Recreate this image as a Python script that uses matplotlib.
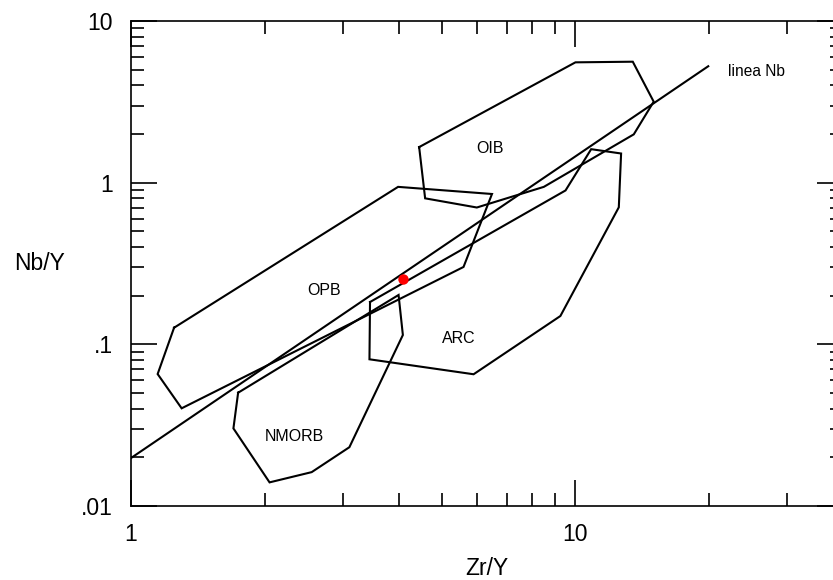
"""Nb/Y vs Zr/Y discrimination diagram (OIB, OPB, ARC, NMORB fields + linea Nb)."""
import matplotlib
matplotlib.use("Agg")
import matplotlib.pyplot as plt
from matplotlib.ticker import LogLocator, FixedLocator, FixedFormatter, NullFormatter

plt.rcParams["font.family"] = ["Liberation Sans", "DejaVu Sans"]

# field outlines (Zr/Y, Nb/Y)
OIB_X = [4.45, 10.0, 13.46, 15.0, 13.53, 8.49, 6.0, 4.59]
OIB_Y = [1.66, 5.55, 5.60, 3.17, 1.99, 0.942, 0.702, 0.80]

OPB_X = [1.25, 1.148, 1.30, 5.60, 6.49, 3.99]
OPB_Y = [0.1267, 0.0655, 0.0402, 0.301, 0.851, 0.942]

ARC_X = [3.45, 3.44, 5.90, 9.25, 12.52, 12.67, 10.85, 9.5]
ARC_Y = [0.1827, 0.0808, 0.0653, 0.1497, 0.704, 1.515, 1.611, 0.895]

NMORB_X = [1.742, 1.70, 2.05, 2.55, 3.10, 4.09, 4.0]
NMORB_Y = [0.0502, 0.0302, 0.0140, 0.0162, 0.0231, 0.1142, 0.202]

NB_LINE_X = [1.0, 19.9]
NB_LINE_Y = [0.0198, 5.25]

SAMPLE_X = [4.09]
SAMPLE_Y = [0.2525]

# field labels
LABELS = ["OIB", "OPB", "ARC", "NMORB"]
LABEL_X = [6.44, 2.72, 5.46, 2.33]
LABEL_Y = [1.63, 0.215, 0.109, 0.0271]

Y_TICKS = [0.01, 0.1, 1, 10]
Y_TICKLABELS = [".01", ".1", "1", "10"]
X_TICKS = [1, 10]
X_TICKLABELS = ["1", "10"]


def closed(xs, ys):
    return xs + xs[:1], ys + ys[:1]


fig = plt.figure(figsize=(8.33, 5.80), dpi=100)
# axes runs a little past the right edge, like the cropped original
ax = fig.add_axes([131 / 833, 74 / 580, 712 / 833, 485 / 580])
ax.set_xscale("log")
ax.set_yscale("log")
ax.set_xlim(1, 40)
ax.set_ylim(0.01, 10)

lw = 1.5
for xs, ys in [(OIB_X, OIB_Y), (OPB_X, OPB_Y), (ARC_X, ARC_Y), (NMORB_X, NMORB_Y)]:
    cx, cy = closed(xs, ys)
    ax.plot(cx, cy, color="black", lw=lw, solid_joinstyle="miter")
ax.plot(NB_LINE_X, NB_LINE_Y, color="black", lw=lw)
ax.plot(SAMPLE_X, SAMPLE_Y, "o", color="#ff0000", ms=7.5, mec="none")

for txt, x, y in zip(LABELS, LABEL_X, LABEL_Y):
    ax.text(x, y, txt, fontsize=11.5, ha="center", va="center")
ax.text(22.1, 4.84, "linea Nb", fontsize=11.2, ha="left", va="center")

ax.xaxis.set_major_locator(FixedLocator(X_TICKS))
ax.xaxis.set_major_formatter(FixedFormatter(X_TICKLABELS))
ax.xaxis.set_minor_locator(LogLocator(base=10, subs=range(2, 10), numticks=20))
ax.xaxis.set_minor_formatter(NullFormatter())
ax.yaxis.set_major_locator(FixedLocator(Y_TICKS))
ax.yaxis.set_major_formatter(FixedFormatter(Y_TICKLABELS))
ax.yaxis.set_minor_locator(LogLocator(base=10, subs=range(2, 10), numticks=20))
ax.yaxis.set_minor_formatter(NullFormatter())

ax.tick_params(which="both", direction="in", top=True, right=True, width=1.2,
               colors="black")
ax.tick_params(which="major", length=18.5)
ax.tick_params(which="minor", length=9.2)
ax.tick_params(axis="x", which="major", pad=12.5, labelsize=16.5)
ax.tick_params(axis="y", which="major", pad=13, labelsize=16.5)
for sp in ax.spines.values():
    sp.set_linewidth(1.2)

ax.set_xlabel("Zr/Y", fontsize=16.5, va="center")
ax.xaxis.set_label_coords(0.5, -0.128)
ax.set_ylabel("Nb/Y", fontsize=16.5, rotation=0, ha="center", va="center")
ax.yaxis.set_label_coords(-0.1285, 0.5)

fig.savefig("out.png", dpi=100)
